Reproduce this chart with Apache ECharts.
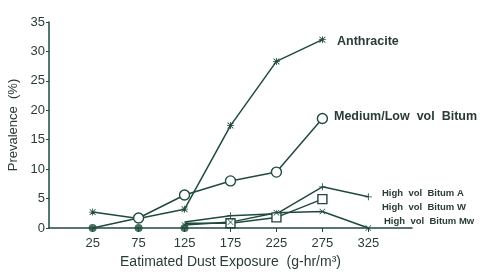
<!DOCTYPE html>
<html><head><meta charset="utf-8">
<script src="https://cdn.jsdelivr.net/npm/echarts@6/dist/echarts.min.js"></script>
<style>html,body{margin:0;padding:0;background:#fff}#c{width:500px;height:272px}</style>
</head><body><div id="c"></div>
<script>
const xTicks = [25, 75, 125, 175, 225, 275, 325];
const yTicks = [0, 5, 10, 15, 20, 25, 30, 35];
const anthracite = [2.7, 1.6, 3.2, 17.4, 28.3, 32.0, null];
const mediumLow = [0, 1.7, 5.6, 8.0, 9.5, 18.6, null];
const bitumA = [null, null, 1.0, 2.1, 2.4, 7.0, 5.3];
const bitumW = [null, null, 0.8, 0.8, 1.8, 4.9, null];
const bitumMw = [null, null, 0.5, 1.0, 2.6, 2.8, 0];
const zeroDots = [0, 0, 0, null, null, null, null];
const seriesNames = ['Anthracite', 'Medium/Low  vol  Bitum', 'High  vol  Bitum A', 'High  vol  Bitum W', 'High  vol  Bitum Mw'];

const LINE = '#1f4a3c';
const TXT = '#2a3b39';
const plusPath = 'path://M4.4,0H5.6V4.4H10V5.6H5.6V10H4.4V5.6H0V4.4H4.4Z';
const xPath = 'path://M0.8,0L5,4.2L9.2,0L10,0.8L5.8,5L10,9.2L9.2,10L5,5.8L0.8,10L0,9.2L4.2,5L0,0.8Z';
const starPath = 'path://M4.4,0H5.6V4.4H10V5.6H5.6V10H4.4V5.6H0V4.4H4.4Z M1.2,0.4L5,4.2L8.8,0.4L9.6,1.2L5.8,5L9.6,8.8L8.8,9.6L5,5.8L1.2,9.6L0.4,8.8L4.2,5L0.4,1.2Z';

// first-point marker hidden for series that start from a shared point
function pairs(arr, hideFirst) {
  const out = [];
  xTicks.forEach((x, i) => {
    if (arr[i] === null) return;
    const item = { value: [x, arr[i]] };
    if (hideFirst && out.length === 0) item.symbol = 'none';
    out.push(item);
  });
  return out;
}

function lineSeries(name, arr, symbol, size, fill, hideFirst) {
  return {
    name, type: 'line', data: pairs(arr, hideFirst), symbol, symbolSize: size,
    showAllSymbol: true, animation: false,
    lineStyle: { color: LINE, width: 1.5 },
    itemStyle: { color: fill || LINE, borderColor: LINE, borderWidth: fill ? 1.4 : 0 },
    z: 3
  };
}

const chart = echarts.init(document.getElementById('c'), null, { renderer: 'canvas' });
chart.setOption({
  animation: false,
  grid: { left: 49, right: 88, top: 22, bottom: 44, containLabel: false, outerBoundsMode: 'none' },
  xAxis: {
    type: 'value', min: -22.5, max: 372.5,
    name: 'Eatimated Dust Exposure  (g-hr/m³)', nameLocation: 'middle', nameGap: 21,
    nameTextStyle: { fontFamily: 'Liberation Sans, Arial', fontSize: 14, color: TXT },
    axisLine: { show: true, onZero: false, lineStyle: { color: LINE, width: 1.5 } },
    axisTick: { show: true, length: 4, lineStyle: { color: LINE }, customValues: xTicks },
    axisLabel: { customValues: xTicks, fontFamily: 'Liberation Sans, Arial', fontSize: 13, color: TXT, margin: 9 },
    splitLine: { show: false }
  },
  yAxis: {
    type: 'value', min: 0, max: 35, interval: 5,
    name: 'Prevalence  (%)', nameLocation: 'middle', nameGap: 28, nameRotate: 90,
    nameTextStyle: { fontFamily: 'Liberation Sans, Arial', fontSize: 13, color: TXT },
    axisLine: { show: true, onZero: false, lineStyle: { color: LINE, width: 1.5 } },
    axisTick: { show: true, length: 3, lineStyle: { color: LINE } },
    axisLabel: { fontFamily: 'Liberation Sans, Arial', fontSize: 13, color: TXT, margin: 4,
      formatter: v => yTicks.includes(v) ? String(v) : '' },
    splitLine: { show: false }
  },
  series: [
    lineSeries(seriesNames[0], anthracite, starPath, 7),
    lineSeries(seriesNames[1], mediumLow, 'circle', 10, '#ffffff', true),
    lineSeries(seriesNames[2], bitumA, plusPath, 7, null, true),
    lineSeries(seriesNames[3], bitumW, 'rect', 9, '#ffffff', true),
    lineSeries(seriesNames[4], bitumMw, xPath, 6),
    { name: 'zero', type: 'scatter', data: zeroDots.map((v, i) => [xTicks[i], v]).filter(p => p[1] !== null),
      symbol: 'circle', symbolSize: 8, itemStyle: { color: LINE }, z: 5, animation: false }
  ],
  graphic: [
    { type: 'text', left: 337, top: 35, style: { text: seriesNames[0], font: 'bold 12.5px Liberation Sans, Arial', fill: TXT } },
    { type: 'text', left: 334, top: 110, style: { text: seriesNames[1], font: 'bold 12.5px Liberation Sans, Arial', fill: TXT } },
    { type: 'text', left: 382, top: 188, style: { text: seriesNames[2], font: 'bold 9.5px Liberation Sans, Arial', fill: TXT } },
    { type: 'text', left: 382, top: 202, style: { text: seriesNames[3], font: 'bold 9.5px Liberation Sans, Arial', fill: TXT } },
    { type: 'text', left: 384, top: 216, style: { text: seriesNames[4], font: 'bold 9.5px Liberation Sans, Arial', fill: TXT } }
  ]
});
</script></body></html>
